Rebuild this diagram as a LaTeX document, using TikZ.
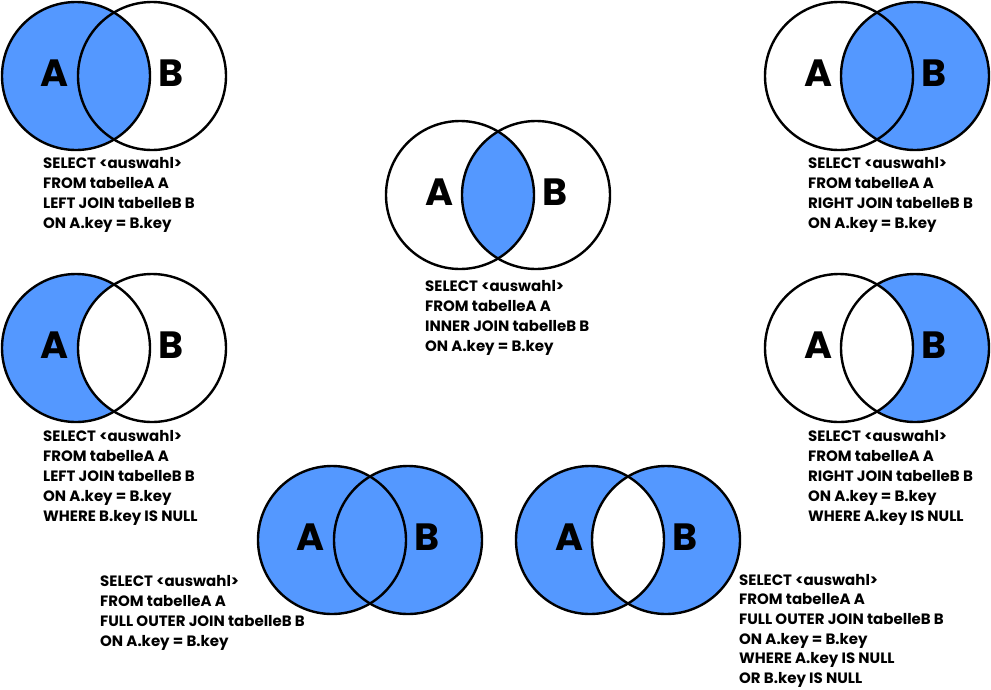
\documentclass[tikz,border=0pt]{standalone}
\usepackage{fontspec}
\setmainfont{Poppins}
\definecolor{vennblue}{RGB}{84,152,255}
\tikzset{
  setring/.style={circle, draw=black, line width=2.4pt, minimum size=148pt, inner sep=0pt},
  setletter/.style={font=\fontsize{38}{38}\selectfont\bfseries, inner sep=0pt, anchor=base},
  sqltext/.style={font=\fontsize{15}{20}\selectfont\bfseries, align=left, anchor=north west, inner sep=0pt},
}
\begin{document}
\begin{tikzpicture}[x=1pt, y=-1pt]
\useasboundingbox (0,0) rectangle (991,689);
% ---------- 1: LEFT JOIN
\begin{scope}[shift={(114,76)}]
  \fill[vennblue] (-38,0) circle (74);
  \node[setring] (a1) at (-38,0) {};
  \node[setring] (b1) at (38,0) {};
  \node[setletter] (la1) at (-59,10) {A};
  \node[setletter] (lb1) at (57,10) {B};
\end{scope}
\node[sqltext] (t1) at (43,157) {SELECT <auswahl>\\FROM tabelleA A\\LEFT JOIN tabelleB B\\ON A.key = B.key};
% ---------- 2: INNER JOIN
\begin{scope}[shift={(498,195)}]
  \begin{scope}
    \clip (-38,0) circle (74);
    \fill[vennblue] (38,0) circle (74);
  \end{scope}
  \node[setring] (a2) at (-38,0) {};
  \node[setring] (b2) at (38,0) {};
  \node[setletter] (la2) at (-59,10) {A};
  \node[setletter] (lb2) at (57,10) {B};
\end{scope}
\node[sqltext] (t2) at (425,280) {SELECT <auswahl>\\FROM tabelleA A\\INNER JOIN tabelleB B\\ON A.key = B.key};
% ---------- 3: RIGHT JOIN
\begin{scope}[shift={(877,76)}]
  \fill[vennblue] (38,0) circle (74);
  \node[setring] (a3) at (-38,0) {};
  \node[setring] (b3) at (38,0) {};
  \node[setletter] (la3) at (-59,10) {A};
  \node[setletter] (lb3) at (57,10) {B};
\end{scope}
\node[sqltext] (t3) at (808,157) {SELECT <auswahl>\\FROM tabelleA A\\RIGHT JOIN tabelleB B\\ON A.key = B.key};
% ---------- 4: LEFT JOIN, B.key IS NULL
\begin{scope}[shift={(114,348)}]
  \fill[vennblue] (-38,0) circle (74);
  \begin{scope}
    \clip (-38,0) circle (74);
    \fill[white] (38,0) circle (74);
  \end{scope}
  \node[setring] (a4) at (-38,0) {};
  \node[setring] (b4) at (38,0) {};
  \node[setletter] (la4) at (-59,10) {A};
  \node[setletter] (lb4) at (57,10) {B};
\end{scope}
\node[sqltext] (t4) at (43,430) {SELECT <auswahl>\\FROM tabelleA A\\LEFT JOIN tabelleB B\\ON A.key = B.key\\WHERE B.key IS NULL};
% ---------- 5: RIGHT JOIN, A.key IS NULL
\begin{scope}[shift={(877,348)}]
  \fill[vennblue] (38,0) circle (74);
  \begin{scope}
    \clip (38,0) circle (74);
    \fill[white] (-38,0) circle (74);
  \end{scope}
  \node[setring] (a5) at (-38,0) {};
  \node[setring] (b5) at (38,0) {};
  \node[setletter] (la5) at (-59,10) {A};
  \node[setletter] (lb5) at (57,10) {B};
\end{scope}
\node[sqltext] (t5) at (808,430) {SELECT <auswahl>\\FROM tabelleA A\\RIGHT JOIN tabelleB B\\ON A.key = B.key\\WHERE A.key IS NULL};
% ---------- 6: FULL OUTER JOIN
\begin{scope}[shift={(370,540)}]
  \fill[vennblue] (-38,0) circle (74);
  \fill[vennblue] (38,0) circle (74);
  \node[setring] (a6) at (-38,0) {};
  \node[setring] (b6) at (38,0) {};
  \node[setletter] (la6) at (-59,10) {A};
  \node[setletter] (lb6) at (57,10) {B};
\end{scope}
\node[sqltext] (t6) at (100,575) {SELECT <auswahl>\\FROM tabelleA A\\FULL OUTER JOIN tabelleB B\\ON A.key = B.key};
% ---------- 7: FULL OUTER JOIN, excluding intersection
\begin{scope}[shift={(628,540)}]
  \fill[vennblue] (-38,0) circle (74);
  \fill[vennblue] (38,0) circle (74);
  \begin{scope}
    \clip (-38,0) circle (74);
    \fill[white] (38,0) circle (74);
  \end{scope}
  \node[setring] (a7) at (-38,0) {};
  \node[setring] (b7) at (38,0) {};
  \node[setletter] (la7) at (-59,10) {A};
  \node[setletter] (lb7) at (57,10) {B};
\end{scope}
\node[sqltext,font=\fontsize{15}{19.6}\selectfont\bfseries] (t7) at (739,574) {SELECT <auswahl>\\FROM tabelleA A\\FULL OUTER JOIN tabelleB B\\ON A.key = B.key\\WHERE A.key IS NULL\\OR B.key IS NULL};
\end{tikzpicture}
\end{document}
